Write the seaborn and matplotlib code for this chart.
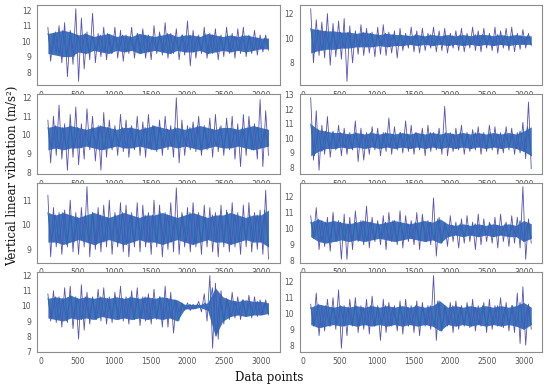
import numpy as np
import matplotlib.pyplot as plt
import seaborn as sns

# sample range of the recordings (data point index)
start_idx, end_idx = 100, 3100

# --- panel 1 (row 1, left) ---
p1_hi = [10.9, 10.5, 11.0, 11.2, 10.7, 12.1, 11.5, 10.6, 11.8, 10.5, 10.9, 10.4, 10.9, 10.7, 10.4, 10.9, 10.5, 10.8, 10.4, 11.0,
         10.6, 11.2, 10.5, 10.8, 10.4, 11.3, 10.7, 10.4, 10.9, 10.5, 10.8, 10.4, 10.9, 10.5, 10.8, 10.9, 10.4, 10.7, 10.4, 10.4]
p1_lo = [8.7, 9.2, 8.6, 7.7, 8.5, 7.4, 8.2, 8.8, 8.6, 9.0, 8.8, 9.2, 8.9, 8.7, 9.2, 8.9, 9.2, 8.9, 8.8, 9.2,
         9.1, 8.9, 9.2, 8.8, 9.1, 8.4, 8.9, 9.2, 8.9, 9.2, 8.8, 9.0, 9.2, 8.9, 9.2, 9.0, 9.2, 9.1, 9.3, 9.4]
p1_core_hi = [10.5, 10.6, 10.7, 10.6, 10.4, 10.5, 10.3, 10.4, 10.5, 10.3, 10.4, 10.3, 10.5, 10.4, 10.3,
              10.4, 10.5, 10.3, 10.4, 10.4, 10.3, 10.5, 10.4, 10.3, 10.4, 10.3, 10.4, 10.3, 10.2, 10.2]
p1_core_lo = [9.2, 9.1, 9.0, 9.0, 9.3, 9.2, 9.4, 9.3, 9.2, 9.4, 9.3, 9.4, 9.2, 9.3, 9.4,
              9.3, 9.2, 9.4, 9.3, 9.3, 9.4, 9.2, 9.3, 9.4, 9.3, 9.4, 9.3, 9.4, 9.5, 9.5]

# --- panel 2 (row 1, right) ---
p2_hi = [12.4, 11.5, 11.3, 12.0, 11.2, 11.4, 11.6, 11.0, 10.6, 11.1, 10.8, 10.5, 10.9, 11.1, 10.5, 10.6, 10.8, 10.4, 10.9, 10.6,
         10.8, 10.4, 10.9, 10.6, 10.8, 10.4, 10.6, 10.8, 10.4, 10.9, 10.6, 10.8, 10.4, 10.9, 10.6, 10.8, 10.9, 10.4, 10.7, 10.4]
p2_lo = [8.0, 8.6, 8.4, 7.8, 8.5, 8.3, 6.5, 8.0, 8.7, 8.6, 8.8, 8.5, 8.7, 8.6, 8.8, 8.4, 9.0, 9.2, 8.9, 8.8,
         9.0, 9.2, 8.9, 9.0, 8.8, 9.2, 9.0, 8.9, 9.2, 9.0, 8.9, 9.2, 9.0, 8.8, 9.2, 9.0, 8.9, 9.1, 9.2, 9.4]
p2_core_hi = [10.8, 10.7, 10.6, 10.6, 10.5, 10.5, 10.4, 10.5, 10.4, 10.3, 10.4, 10.3, 10.3, 10.2, 10.3,
              10.2, 10.3, 10.2, 10.3, 10.2, 10.3, 10.2, 10.3, 10.3, 10.2, 10.3, 10.2, 10.3, 10.2, 10.2]
p2_core_lo = [8.8, 9.0, 9.1, 9.1, 9.2, 9.2, 9.3, 9.3, 9.3, 9.4, 9.3, 9.4, 9.4, 9.5, 9.4,
              9.5, 9.4, 9.5, 9.4, 9.5, 9.4, 9.5, 9.4, 9.5, 9.4, 9.5, 9.4, 9.5, 9.5, 9.5]

# --- panel 3 (row 2, left) ---
p3_hi = [10.8, 11.0, 11.6, 10.6, 11.1, 11.5, 10.6, 11.4, 11.0, 10.5, 11.2, 10.8, 10.5, 11.1, 10.8, 10.5, 11.0, 10.7, 11.1, 10.5,
         10.8, 11.0, 10.5, 12.0, 10.8, 10.5, 10.7, 11.0, 10.5, 10.9, 11.1, 10.5, 10.9, 11.0, 10.6, 11.1, 11.0, 10.6, 11.9, 11.3]
p3_lo = [8.5, 8.9, 8.7, 8.1, 8.8, 8.4, 8.7, 9.2, 8.6, 8.1, 8.8, 9.2, 8.9, 9.1, 8.8, 9.2, 8.9, 8.8, 9.2, 9.1,
         8.9, 9.2, 8.8, 8.5, 8.9, 9.2, 9.1, 8.9, 9.2, 8.8, 9.1, 8.9, 9.2, 8.7, 8.3, 8.9, 9.2, 8.7, 8.3, 8.9]
p3_core_hi = [10.4, 10.5, 10.4, 10.5, 10.4, 10.3, 10.4, 10.5, 10.4, 10.3, 10.4, 10.4, 10.3, 10.4, 10.5,
              10.4, 10.3, 10.4, 10.3, 10.4, 10.5, 10.4, 10.3, 10.4, 10.4, 10.3, 10.4, 10.5, 10.4, 10.3]
p3_core_lo = [9.2, 9.3, 9.2, 9.3, 9.3, 9.4, 9.3, 9.2, 9.3, 9.4, 9.3, 9.3, 9.4, 9.3, 9.2,
              9.3, 9.4, 9.3, 9.4, 9.3, 9.2, 9.3, 9.4, 9.3, 9.3, 9.4, 9.3, 9.2, 9.3, 9.4]

# --- panel 4 (row 2, right) ---
p4_hi = [12.8, 11.9, 10.9, 11.5, 10.5, 10.9, 10.7, 10.4, 11.2, 10.7, 10.4, 10.8, 10.7, 10.4, 11.4, 10.8, 10.4, 11.2, 10.9, 10.4,
         10.7, 10.9, 10.4, 10.7, 12.2, 10.4, 10.7, 10.9, 10.4, 10.6, 10.8, 10.4, 10.9, 10.8, 10.4, 10.8, 10.7, 10.4, 11.1, 12.5]
p4_lo = [8.5, 7.8, 8.9, 8.7, 9.2, 8.8, 8.9, 9.2, 8.4, 8.5, 8.9, 9.2, 8.8, 9.1, 8.9, 9.2, 9.0, 9.1, 8.9, 9.2,
         8.8, 9.1, 9.2, 8.9, 8.8, 9.1, 9.2, 8.9, 9.1, 9.2, 8.9, 9.1, 9.2, 8.9, 9.0, 9.2, 8.9, 9.0, 8.6, 7.9]
p4_core_hi = [11.0, 10.6, 10.5, 10.4, 10.4, 10.3, 10.4, 10.3, 10.4, 10.3, 10.4, 10.3, 10.4, 10.3, 10.4,
              10.3, 10.4, 10.3, 10.4, 10.3, 10.4, 10.3, 10.4, 10.3, 10.4, 10.3, 10.4, 10.3, 10.5, 10.8]
p4_core_lo = [8.8, 9.1, 9.3, 9.3, 9.4, 9.3, 9.4, 9.3, 9.4, 9.3, 9.4, 9.3, 9.4, 9.3, 9.4,
              9.3, 9.4, 9.3, 9.4, 9.3, 9.4, 9.3, 9.4, 9.3, 9.4, 9.3, 9.4, 9.3, 9.1, 8.8]

# --- panel 5 (row 3, left) ---
p5_hi = [11.2, 10.7, 10.5, 10.6, 11.0, 10.5, 10.7, 11.55, 10.5, 10.7, 10.8, 11.0, 10.5, 10.9, 10.8, 10.5, 10.9, 10.8, 10.5, 11.0,
         10.8, 10.5, 10.9, 11.5, 10.5, 10.7, 10.9, 10.5, 10.8, 10.7, 10.5, 10.8, 10.6, 10.9, 10.5, 10.8, 10.9, 10.5, 10.6, 11.4]
p5_lo = [8.7, 9.1, 8.8, 9.1, 8.9, 8.8, 9.1, 8.7, 9.0, 8.9, 9.1, 8.8, 9.1, 8.9, 8.7, 9.1, 8.9, 9.1, 8.8, 9.1,
         8.7, 9.0, 8.9, 8.8, 9.1, 8.9, 9.1, 8.8, 9.1, 8.9, 8.7, 9.1, 8.9, 9.1, 8.8, 9.1, 8.9, 9.0, 8.8, 8.6]
p5_core_hi = [10.5, 10.4, 10.5, 10.4, 10.3, 10.4, 10.5, 10.4, 10.3, 10.4, 10.5, 10.4, 10.3, 10.4, 10.4,
              10.5, 10.4, 10.3, 10.4, 10.5, 10.4, 10.3, 10.4, 10.4, 10.5, 10.4, 10.3, 10.4, 10.4, 10.6]
p5_core_lo = [9.3, 9.3, 9.2, 9.3, 9.4, 9.3, 9.2, 9.3, 9.4, 9.3, 9.2, 9.3, 9.4, 9.3, 9.3,
              9.2, 9.3, 9.4, 9.3, 9.2, 9.3, 9.4, 9.3, 9.3, 9.2, 9.3, 9.4, 9.3, 9.3, 9.1]

# --- panel 6 (row 3, right) ---
p6_hi = [10.8, 11.3, 10.5, 10.7, 11.0, 10.5, 10.9, 10.7, 11.1, 10.5, 11.4, 10.7, 10.5, 10.8, 11.0, 10.5, 11.1, 10.8, 10.5, 11.0,
         10.9, 10.5, 11.9, 10.7, 10.4, 10.8, 10.4, 10.6, 10.8, 10.4, 10.9, 10.6, 10.4, 10.7, 10.9, 10.4, 10.8, 10.7, 12.6, 10.6]
p6_lo = [9.4, 8.7, 8.9, 8.6, 9.2, 8.1, 8.1, 8.7, 9.2, 9.0, 8.8, 9.2, 9.0, 8.7, 9.2, 9.0, 8.8, 9.2, 9.0, 8.7,
         9.2, 9.0, 8.3, 9.1, 8.9, 9.2, 8.8, 9.1, 9.2, 8.7, 9.0, 9.2, 9.1, 8.8, 9.2, 8.9, 9.1, 8.8, 8.1, 9.1]
p6_core_hi = [10.4, 10.6, 10.4, 10.5, 10.4, 10.3, 10.4, 10.5, 10.4, 10.3, 10.4, 10.5, 10.4, 10.3, 10.4,
              10.5, 10.4, 10.6, 10.3, 10.2, 10.3, 10.2, 10.3, 10.2, 10.3, 10.2, 10.3, 10.2, 10.5, 10.3]
p6_core_lo = [9.5, 9.2, 9.1, 9.2, 9.3, 9.2, 9.3, 9.2, 9.3, 9.4, 9.3, 9.2, 9.3, 9.4, 9.3,
              9.2, 9.3, 9.1, 9.5, 9.6, 9.5, 9.6, 9.5, 9.6, 9.5, 9.6, 9.5, 9.5, 9.2, 9.4]

# --- panel 7 (row 4, left) ---
p7_hi = [10.8, 11.0, 10.6, 11.2, 11.3, 10.6, 11.4, 10.9, 10.6, 11.1, 11.2, 10.6, 10.9, 11.3, 10.6, 11.0, 11.2, 10.6, 10.8, 11.1,
         10.6, 11.3, 10.9, 10.3, 10.2, 10.2, 10.1, 10.3, 10.8, 12.0, 11.5, 11.0, 10.5, 10.9, 10.6, 10.4, 10.7, 10.6, 10.4, 10.4]
p7_lo = [9.0, 8.9, 8.6, 8.9, 8.5, 7.8, 8.4, 8.8, 9.1, 9.0, 8.8, 8.9, 9.1, 9.0, 8.8, 9.1, 8.7, 9.0, 8.8, 9.1,
         8.6, 8.6, 8.2, 9.6, 9.7, 9.7, 9.8, 9.6, 9.0, 7.2, 7.8, 8.8, 9.1, 9.2, 9.1, 9.3, 9.2, 9.3, 9.4, 9.4]
p7_core_hi = [10.5, 10.6, 10.5, 10.7, 10.5, 10.6, 10.5, 10.6, 10.5, 10.6, 10.5, 10.6, 10.5, 10.6, 10.5,
              10.6, 10.5, 10.4, 10.1, 10.1, 10.1, 10.2, 11.2, 10.6, 10.4, 10.3, 10.4, 10.3, 10.3, 10.2]
p7_core_lo = [9.2, 9.1, 9.0, 9.2, 9.1, 9.2, 9.1, 9.3, 9.2, 9.1, 9.2, 9.1, 9.2, 9.1, 9.2,
              9.1, 9.2, 9.0, 9.8, 9.8, 9.9, 9.7, 8.0, 9.0, 9.3, 9.4, 9.3, 9.4, 9.4, 9.5]

# --- panel 8 (row 4, right) ---
p8_hi = [10.6, 11.3, 10.5, 10.9, 11.0, 11.5, 10.5, 10.9, 11.0, 10.5, 10.9, 11.1, 10.5, 10.9, 10.7, 10.5, 10.8, 10.9, 10.5, 10.8,
         10.7, 10.5, 12.4, 10.8, 10.5, 10.7, 10.8, 10.5, 10.7, 10.9, 10.5, 10.7, 10.9, 10.5, 11.0, 10.7, 10.5, 11.3, 11.7, 10.6]
p8_lo = [9.2, 8.6, 8.9, 9.2, 9.0, 7.8, 8.6, 9.2, 8.8, 9.0, 8.7, 9.2, 8.3, 8.8, 9.2, 8.9, 8.7, 9.2, 8.8, 8.6,
         9.2, 9.0, 8.3, 8.9, 9.2, 8.8, 9.0, 9.2, 9.1, 8.9, 9.2, 8.8, 9.0, 9.2, 9.1, 8.9, 8.8, 8.1, 8.0, 9.0]
p8_core_hi = [10.4, 10.6, 10.5, 10.4, 10.5, 10.4, 10.5, 10.4, 10.5, 10.4, 10.5, 10.4, 10.5, 10.4, 10.5,
              10.4, 10.5, 10.8, 10.4, 10.5, 10.4, 10.5, 10.4, 10.5, 10.4, 10.5, 10.4, 10.5, 10.7, 10.4]
p8_core_lo = [9.3, 9.1, 9.2, 9.3, 9.2, 9.3, 9.2, 9.3, 9.2, 9.3, 9.2, 9.3, 9.2, 9.3, 9.2,
              9.3, 9.2, 8.9, 9.3, 9.2, 9.3, 9.2, 9.3, 9.2, 9.3, 9.2, 9.3, 9.2, 9.0, 9.3]

# y tick positions for every panel
yticks_list = [[8, 9, 10, 11, 12], [8, 10, 12],
               [8, 9, 10, 11, 12], [8, 9, 10, 11, 12, 13],
               [9, 10, 11], [8, 9, 10, 11, 12],
               [7, 8, 9, 10, 11, 12], [8, 9, 10, 11, 12]]

panels = [(p1_hi, p1_lo, p1_core_hi, p1_core_lo), (p2_hi, p2_lo, p2_core_hi, p2_core_lo),
          (p3_hi, p3_lo, p3_core_hi, p3_core_lo), (p4_hi, p4_lo, p4_core_hi, p4_core_lo),
          (p5_hi, p5_lo, p5_core_hi, p5_core_lo), (p6_hi, p6_lo, p6_core_hi, p6_core_lo),
          (p7_hi, p7_lo, p7_core_hi, p7_core_lo), (p8_hi, p8_lo, p8_core_hi, p8_core_lo)]

sns.set_style('white')

fig, axes = plt.subplots(4, 2, figsize=(5.5, 3.88), dpi=100)
fig.subplots_adjust(left=0.067, right=0.986, top=0.987, bottom=0.093, wspace=0.083, hspace=0.113)

for ax, (hi, lo, chi, clo), yt in zip(axes.flat, panels, yticks_list):
    # dense core of the signal
    x_core = np.linspace(start_idx, end_idx, len(chi))
    ax.fill_between(x_core, clo, chi, color='#2b66b3', alpha=0.9, lw=0)
    # spikes: alternate peaks and troughs
    y_out = np.column_stack([hi, lo]).ravel()
    x_out = np.linspace(start_idx, end_idx, len(y_out))
    sns.lineplot(x=x_out, y=y_out, ax=ax, color='#5552b8', lw=0.6, estimator=None, sort=False)
    # inner trace on top
    y_in = np.column_stack([chi, clo]).ravel()
    x_in = np.linspace(start_idx, end_idx, len(y_in))
    sns.lineplot(x=x_in, y=y_in, ax=ax, color='#1f6db3', lw=0.6, estimator=None, sort=False)

    ax.set_xticks([0, 500, 1000, 1500, 2000, 2500, 3000])
    ax.set_yticks(yt)
    ax.tick_params(labelsize=5.5, colors='#555555', length=2.5, width=0.6, pad=1.5)
    for s in ax.spines.values():
        s.set_color('#8c8c8c')
        s.set_linewidth(0.8)
    ax.set_xlabel('')
    ax.set_ylabel('')

fig.text(0.022, 0.546, 'Vertical linear vibration (m/s²)', rotation=90, ha='center', va='center',
         fontsize=8.5, family='DejaVu Serif', color='#111111')
fig.text(0.49, 0.026, 'Data points', ha='center', va='center',
         fontsize=8.5, family='DejaVu Serif', color='#111111')

plt.savefig('out.png', dpi=100)
